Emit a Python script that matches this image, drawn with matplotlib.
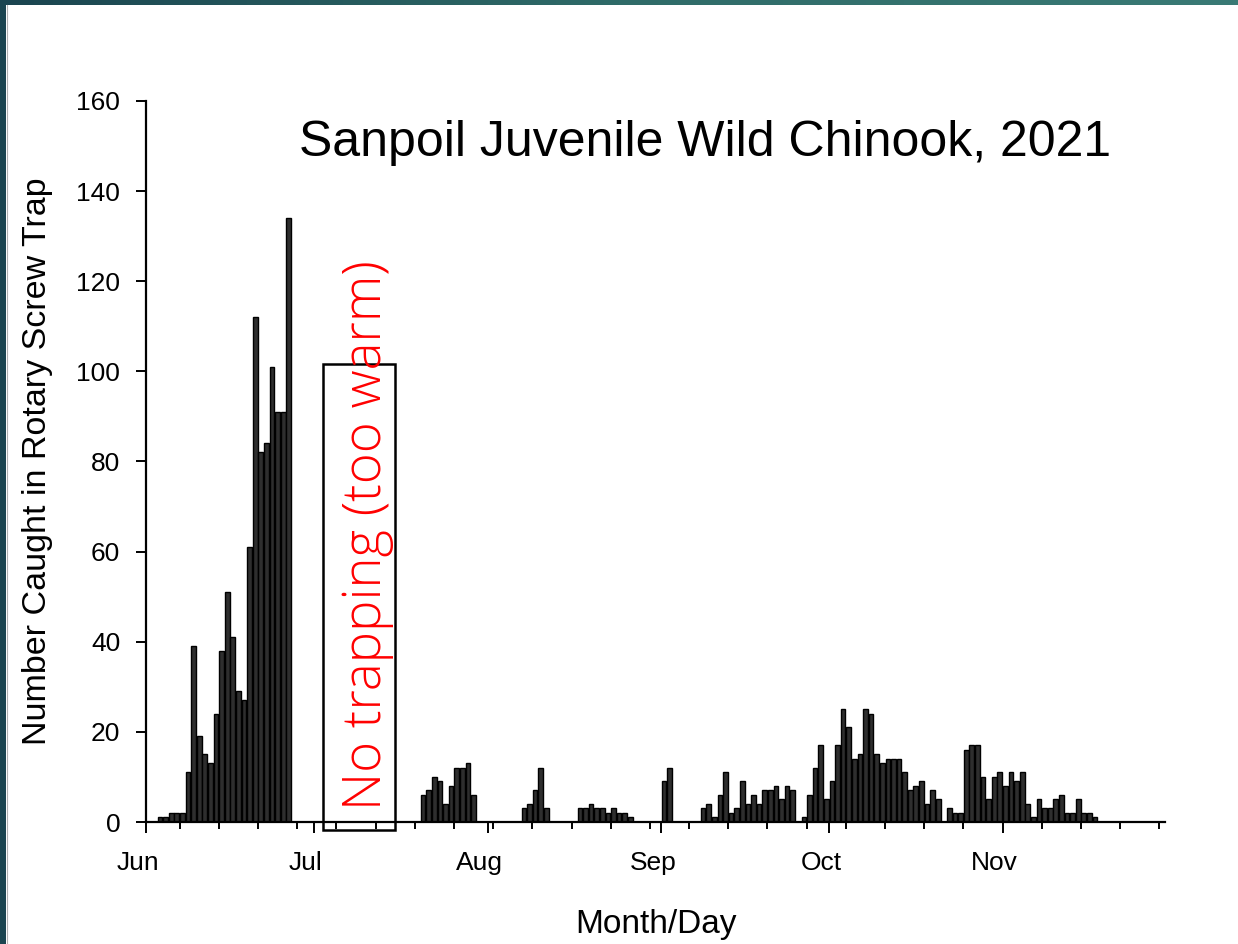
from datetime import date, timedelta

import matplotlib
matplotlib.use("Agg")
import matplotlib.dates as mdates
import numpy as np
from matplotlib import pyplot as plt
from matplotlib.patches import Rectangle
from matplotlib.transforms import ScaledTranslation

# daily catch, first trapping period (from Jun 1)
early_start = date(2021, 6, 1)
early_counts = [0, 0, 1, 1, 2, 2, 2, 11, 39, 19, 15, 13, 24, 38, 51, 41, 29, 27,
                61, 112, 82, 84, 101, 91, 91, 134]

# daily catch, second trapping period (from Jul 20)
late_start = date(2021, 7, 20)
late_counts = [6, 7, 10, 9, 4, 8, 12, 12, 13, 6,
               0, 0, 0, 0, 0, 0, 0, 0,
               3, 4, 7, 12, 3,
               0, 0, 0, 0, 0,
               3, 3, 4, 3, 3, 2, 3, 2, 2, 1,
               0, 0, 0, 0, 0,
               9, 12,
               0, 0, 0, 0, 0,
               3, 4, 1, 6, 11, 2, 3, 9, 4, 6, 4, 7, 7, 8, 5, 8, 7,
               0,
               1, 6, 12, 17, 5, 9, 17, 25, 21, 14, 15, 25, 24, 15, 13, 14, 14, 14,
               11, 7, 8, 9, 4, 7, 5,
               0,
               3, 2, 2, 16, 17, 17, 10, 5, 10, 11, 8, 11, 9, 11, 4, 1, 5, 3, 3,
               5, 6, 2, 2, 5, 2, 2, 1]

no_trap_start = date(2021, 6, 27)
no_trap_end = date(2021, 7, 19)
no_trap_label = "No trapping (too warm)"
title = "Sanpoil Juvenile Wild Chinook, 2021"

plt.rcParams['font.family'] = ['Liberation Sans', 'DejaVu Sans']

fig = plt.figure(figsize=(12.38, 9.44), dpi=100)

# slide frame: teal gradient behind a white page
bg = fig.add_axes([0, 0, 1, 1], zorder=-10)
grad = np.linspace(0, 1, 256).reshape(1, -1)
cmap = matplotlib.colors.LinearSegmentedColormap.from_list("teal", ["#1b4550", "#2f6b68", "#3a7a75"])
bg.imshow(grad, aspect='auto', cmap=cmap, extent=[0, 1, 0, 1])
bg.add_patch(Rectangle((6 / 1238, 0), 1, 1 - 5 / 944, transform=bg.transAxes,
                       facecolor='white', edgecolor='none'))
bg.axvline(7 / 1238, ymax=1 - 5 / 944, color='#b0b0b0', lw=0.8)
bg.set_xlim(0, 1)
bg.set_ylim(0, 1)
bg.axis('off')

ax = fig.add_axes([146 / 1238, 1 - 822 / 944, 1019 / 1238, 721 / 944])
ax.patch.set_alpha(0)


def draw_period(start, counts):
    days = [mdates.date2num(start + timedelta(days=i)) for i, c in enumerate(counts) if c > 0]
    vals = [c for c in counts if c > 0]
    ax.bar(np.array(days) + 0.08, vals, width=0.84, align='edge',
           color='#2e2e2e', edgecolor='black', linewidth=1.0, zorder=2)


draw_period(early_start, early_counts)
draw_period(late_start, late_counts)

# box marking the period without trapping
x0 = mdates.date2num(no_trap_start) + 5.7
x1 = mdates.date2num(no_trap_start) + 18.5
ax.add_patch(Rectangle((x0, -1.8), x1 - x0, 103.4, facecolor='none',
                       edgecolor='black', linewidth=1.8, clip_on=False, zorder=3))
ax.text(mdates.date2num(no_trap_start) + 13.5, 63.7, no_trap_label, rotation=90,
        ha='center', va='center', color='red', fontsize=38,
        family=['Open Sans', 'DejaVu Sans'], fontweight='light', zorder=4)

ax.text(0.549, 0.942, title, transform=ax.transAxes, ha='center', va='center',
        fontsize=36)

ax.set_xlim(mdates.date2num(date(2021, 6, 1)), mdates.date2num(date(2021, 11, 30)))
ax.set_ylim(0, 160)
ax.set_yticks(np.arange(0, 161, 20))

ax.xaxis.set_major_locator(mdates.MonthLocator())
ax.xaxis.set_major_formatter(mdates.DateFormatter('%b'))
ax.xaxis.set_minor_locator(mdates.WeekdayLocator(byweekday=mdates.MO))

for side in ['top', 'right']:
    ax.spines[side].set_visible(False)
for side in ['left', 'bottom']:
    ax.spines[side].set_linewidth(1.6)

ax.tick_params(axis='y', direction='out', length=7, width=1.4, pad=11.5, labelsize=19)
ax.tick_params(axis='x', which='major', direction='out', length=8, width=1.4, pad=13, labelsize=19)
ax.tick_params(axis='x', which='minor', direction='out', length=5, width=1.4)

shift = ScaledTranslation(-8 / 100, 0, fig.dpi_scale_trans)
for lab in ax.get_xticklabels():
    lab.set_transform(lab.get_transform() + shift)

ax.set_xlabel("Month/Day", fontsize=24)
ax.set_ylabel("Number Caught in Rotary Screw Trap", fontsize=24.5)
ax.xaxis.set_label_coords(0.5, -0.121)
ax.yaxis.set_label_coords(-0.091, 0.5)

fig.savefig("out.png", dpi=100)
